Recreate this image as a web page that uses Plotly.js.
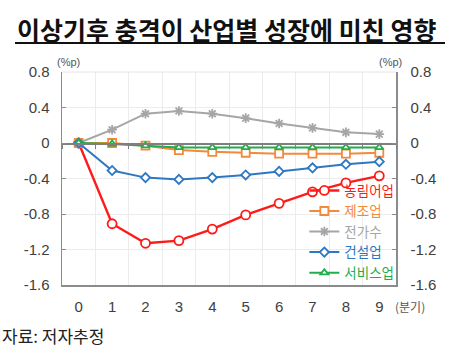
<!DOCTYPE html>
<html><head><meta charset="utf-8">
<script src="https://cdn.plot.ly/plotly-3.0.1.min.js"></script>
<style>body{margin:0;background:#fff}#c{width:470px;height:353px}</style>
</head><body><div id="c"></div>
<script>
const quarters = [0,1,2,3,4,5,6,7,8,9];
const agri    = [0,-0.91,-1.13,-1.10,-0.97,-0.81,-0.68,-0.55,-0.45,-0.37];
const manuf   = [0,0.00,-0.03,-0.08,-0.10,-0.11,-0.12,-0.12,-0.12,-0.11];
const util    = [0,0.15,0.33,0.36,0.33,0.28,0.22,0.17,0.12,0.10];
const constr  = [0,-0.31,-0.39,-0.41,-0.39,-0.36,-0.32,-0.28,-0.24,-0.21];
const service = [0,-0.01,-0.03,-0.05,-0.05,-0.05,-0.05,-0.05,-0.05,-0.05];
const names = ['농림어업','제조업','전가수','건설업','서비스업'];
const yTicks = [0.8,0.4,0,-0.4,-0.8,-1.2,-1.6];
const yTickText = ['0.8','0.4','0','-0.4','-0.8','-1.2','-1.6'];

const colors = ['#FF1A1A','#F28A3C','#A6A6A6','#2E78C2','#1FAE4B'];
const symbols = ['circle','square','asterisk-open','diamond','triangle-up'];
const sizes = [9,8,8,7,7];
const series = [agri, manuf, util, constr, service];
const font = '"Noto Sans CJK KR", "Liberation Sans", sans-serif';

const traces = series.map((s,i)=>({
  x: quarters, y: s, type:'scatter', mode:'lines+markers',
  name: '<span style="color:'+colors[i]+'">'+names[i]+'</span>',
  line:{color:colors[i], width: i===0?2.4:2},
  marker:{symbol:symbols[i], size:sizes[i], color: i===2?colors[i]:'#ffffff', line:{width:1.8,color:colors[i]}},
  cliponaxis:false
}));
traces.push({x:quarters, y:quarters.map(()=>null), xaxis:'x2', yaxis:'y', showlegend:false, hoverinfo:'skip', mode:'lines'});
traces.push({x:quarters, y:quarters.map(()=>null), xaxis:'x', yaxis:'y2', showlegend:false, hoverinfo:'skip', mode:'lines'});

const tickFont = {family:'"Liberation Sans", sans-serif', size:15, color:'#404040'};
const layout = {
  width:470, height:353,
  margin:{l:62, r:74, t:72, b:68},
  paper_bgcolor:'#fff', plot_bgcolor:'#fff',
  font:{family:font, size:14, color:'#404040'},
  showlegend:true,
  legend:{x:1.01, xanchor:'right', y:-0.015, yanchor:'bottom', bgcolor:'rgba(255,255,255,0)',
    font:{family:font, size:13.5}, itemwidth:30, tracegroupgap:0, traceorder:'normal'},
  xaxis:{range:[-0.5,9.5], tickvals:quarters, ticktext:quarters.map(String),
    showgrid:false, zeroline:false, showline:true, linecolor:'#8c8c8c', linewidth:1.5,
    ticks:'', ticklabelstandoff:7, tickfont:tickFont,
    minor:{tick0:0.5, dtick:1, showgrid:true, gridcolor:'#ececec', gridwidth:1, ticks:''}},
  xaxis2:{range:[-0.5,9.5], overlaying:'x', anchor:'free', position:2/3, side:'bottom',
    showline:true, linecolor:'#7f7f7f', linewidth:1.5, tickmode:'linear', tick0:0.5, dtick:1,
    ticks:'outside', ticklen:4, tickcolor:'#7f7f7f', showticklabels:false, showgrid:false, zeroline:false},
  yaxis:{range:[-1.6,0.8], tickvals:yTicks, ticktext:yTickText, showgrid:true, gridcolor:'#ececec',
    zeroline:false, showline:true, linecolor:'#8c8c8c', linewidth:1.5, ticks:'inside', ticklen:4,
    tickcolor:'#8c8c8c', ticklabelstandoff:8, tickfont:tickFont},
  yaxis2:{range:[-1.6,0.8], overlaying:'y', side:'right', anchor:'x', tickvals:yTicks, ticktext:yTickText,
    showgrid:false, zeroline:false, showline:true, linecolor:'#8c8c8c', linewidth:1.5, ticks:'inside', ticklen:4,
    tickcolor:'#8c8c8c', ticklabelstandoff:10, tickfont:tickFont},
  shapes:[
    {type:'line', xref:'paper', yref:'paper', x0:0, x1:1, y0:1, y1:1, line:{color:'#e6e6e6', width:1}},
    {type:'line', xref:'paper', yref:'paper', x0:-47/334, x1:383/334, y0:1+(72-43)/213, y1:1+(72-43)/213, line:{color:'#111', width:2}}
  ],
  annotations:[
    {text:'<b>이상기후 충격이 산업별 성장에 미친 영향</b>', xref:'paper', yref:'paper',
     x:-47/334, xanchor:'left', y:1+(72-29)/213, yanchor:'middle', showarrow:false,
     font:{family:font, size:25, color:'#111'}},
    {text:'(%p)', xref:'paper', yref:'paper', x:-7/334, xanchor:'left', y:1+(72-62)/213, yanchor:'middle',
     showarrow:false, font:{family:'"Liberation Sans", sans-serif', size:11, color:'#555'}},
    {text:'(%p)', xref:'paper', yref:'paper', x:315/334, xanchor:'left', y:1+(72-62)/213, yanchor:'middle',
     showarrow:false, font:{family:'"Liberation Sans", sans-serif', size:11, color:'#555'}},
    {text:'(분기)', xref:'paper', yref:'paper', x:331/334, xanchor:'left', y:-(306-285)/213, yanchor:'middle',
     showarrow:false, font:{family:font, size:12, color:'#555'}},
    {text:'자료: 저자추정', xref:'paper', yref:'paper', x:-62/334, xanchor:'left', y:-(335-285)/213, yanchor:'middle',
     showarrow:false, font:{family:font, size:17, color:'#222'}}
  ]
};
Plotly.newPlot('c', traces, layout, {displayModeBar:false, staticPlot:true});
</script></body></html>
